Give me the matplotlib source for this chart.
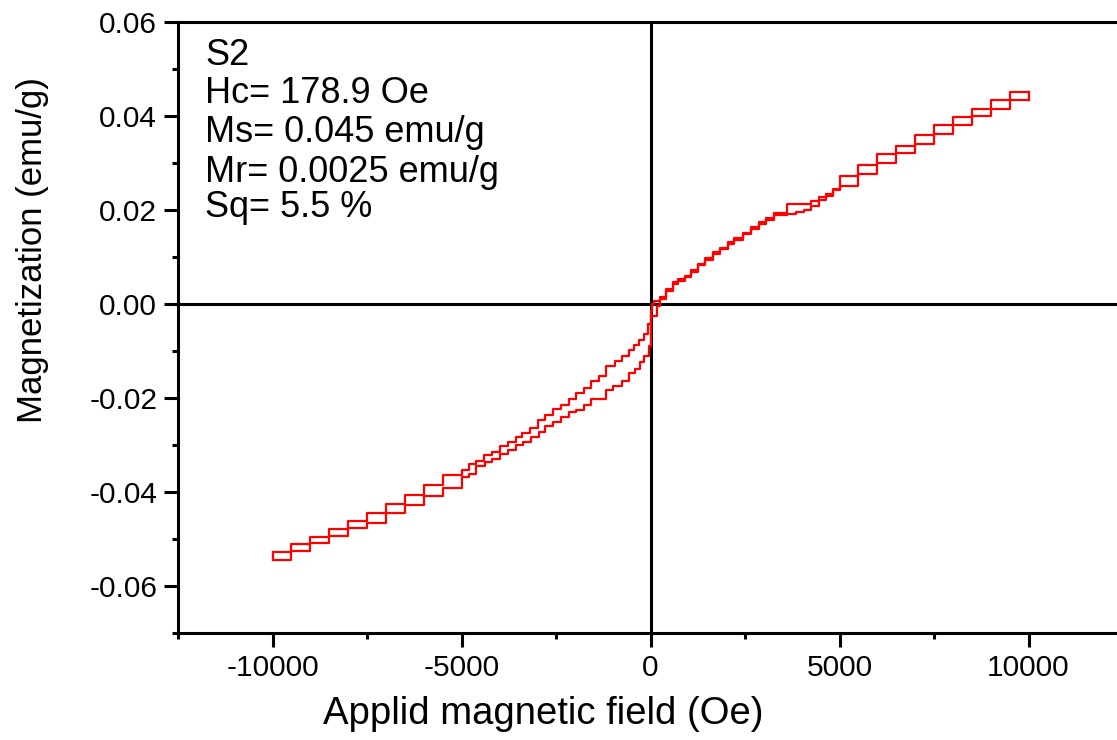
import matplotlib
matplotlib.use('Agg')
import matplotlib.pyplot as plt
import matplotlib.ticker as mticker

plt.rcParams['font.family'] = ['Liberation Sans', 'DejaVu Sans']
plt.rcParams['axes.unicode_minus'] = False

# ── Descending branch (upper curve), step corners: field (Oe), magnetization (emu/g) ──
h_desc = [-10000, -9500, -9000, -8500, -8000, -7500, -7000, -6500, -6000, -5500,
          -5000, -4800, -4610, -4410, -4190, -3970, -3780, -3570, -3390, -3200,
          -2980, -2800, -2570, -2360, -2160, -1970, -1770, -1570, -1370, -1180,
          -930, -750, -570, -430, -300, -160, -70, 0, 45, 105,
          240, 415, 590, 720, 900, 1080, 1250, 1430, 1650, 1830,
          2045, 2220, 2440, 2660, 2865, 3060, 3280, 3620, 4250, 4450,
          4650, 4820, 5000, 5500, 6000, 6500, 7000, 7500, 8000, 8500,
          9000, 9500, 10000]
m_desc = [-0.0528, -0.0511, -0.0496, -0.0479, -0.0462, -0.0444, -0.0425, -0.0406, -0.0385, -0.0363,
          -0.0353, -0.0340, -0.0333, -0.0321, -0.0314, -0.0303, -0.0293, -0.0282, -0.0275, -0.0264,
          -0.0246, -0.0236, -0.0223, -0.0215, -0.0202, -0.0189, -0.0178, -0.0164, -0.0153, -0.0132,
          -0.0121, -0.0111, -0.0098, -0.0088, -0.0076, -0.0064, -0.0043, -0.0014, 0.0000, 0.0007,
          0.0014, 0.0032, 0.0046, 0.0053, 0.0060, 0.0073, 0.0085, 0.0097, 0.0110, 0.0119,
          0.0131, 0.0140, 0.0151, 0.0163, 0.0174, 0.0182, 0.0193, 0.0213, 0.0220, 0.0227,
          0.0234, 0.0245, 0.0272, 0.0296, 0.0319, 0.0337, 0.0360, 0.0381, 0.0397, 0.0415,
          0.0434, 0.0451, 0.0451]

# ── Ascending branch (lower curve) ──
h_asc = [-10000, -9500, -9000, -8500, -8000, -7500, -7000, -6500, -6000, -5500,
         -5000, -4800, -4610, -4390, -4190, -3970, -3780, -3570, -3380, -3160,
         -2960, -2780, -2570, -2360, -2160, -1970, -1770, -1570, -1190, -1000,
         -750, -570, -420, -290, -160, -45, 0, 165, 240, 415,
         590, 720, 900, 1080, 1250, 1430, 1650, 1830, 2045, 2220,
         2440, 2660, 2865, 3060, 3280, 3620, 3850, 4050, 4250, 4450,
         4650, 4820, 5000, 5500, 6000, 6500, 7000, 7500, 8000, 8500,
         9000, 9500, 10000]
m_asc = [-0.0545, -0.0526, -0.0509, -0.0493, -0.0477, -0.0466, -0.0445, -0.0428, -0.0409, -0.0391,
         -0.0369, -0.0362, -0.0345, -0.0337, -0.0330, -0.0320, -0.0310, -0.0300, -0.0293, -0.0282,
         -0.0272, -0.0260, -0.0252, -0.0241, -0.0230, -0.0225, -0.0215, -0.0202, -0.0184, -0.0175,
         -0.0163, -0.0147, -0.0138, -0.0123, -0.0110, -0.0089, -0.0026, -0.0004, 0.0010, 0.0028,
         0.0043, 0.0050, 0.0057, 0.0069, 0.0082, 0.0094, 0.0107, 0.0116, 0.0128, 0.0137,
         0.0148, 0.0160, 0.0171, 0.0179, 0.0190, 0.0192, 0.0195, 0.0201, 0.0208, 0.0222,
         0.0230, 0.0242, 0.0252, 0.0277, 0.0300, 0.0321, 0.0341, 0.0362, 0.0381, 0.0399,
         0.0415, 0.0434, 0.0434]

info_lines = ['S2', 'Hc= 178.9 Oe', 'Ms= 0.045 emu/g', 'Mr= 0.0025 emu/g', 'Sq= 5.5 %']

x_major = [-10000, -5000, 0, 5000, 10000]
y_major = [-0.06, -0.04, -0.02, 0.00, 0.02, 0.04, 0.06]

# ── Figure ──
fig = plt.figure(figsize=(11.17, 7.40), dpi=100)
W, H = 1117, 740
ax = fig.add_axes([178 / W, 1 - 633 / H, (1123 - 178) / W, (633 - 22) / H])

red = '#ff0000'
ax.step(h_desc, m_desc, where='post', color=red, lw=1.6, zorder=3)
ax.step(h_asc, m_asc, where='post', color=red, lw=1.6, zorder=3)
# close the loop at both field extremes
ax.plot([h_asc[0], h_desc[0]], [m_asc[0], m_desc[0]], color=red, lw=1.6, zorder=3)
ax.plot([h_asc[-1], h_desc[-1]], [m_asc[-1], m_desc[-1]], color=red, lw=1.6, zorder=3)

ax.axhline(0, color='black', lw=2.2, zorder=2)
ax.axvline(0, color='black', lw=2.2, zorder=2)

ax.set_xlim(-12500, 12500)
ax.set_ylim(-0.07, 0.06)
ax.set_xticks(x_major)
ax.set_yticks(y_major)
ax.xaxis.set_minor_locator(mticker.MultipleLocator(2500))
ax.yaxis.set_minor_locator(mticker.MultipleLocator(0.01))
ax.yaxis.set_major_formatter(mticker.FormatStrFormatter('%.2f'))

for s in ax.spines.values():
    s.set_linewidth(2.2)
ax.tick_params(which='major', direction='out', length=10, width=2.2, labelsize=21.5, pad=5)
ax.tick_params(which='minor', direction='out', length=4, width=2.2)
ax.tick_params(top=False, right=False, which='both')

ax.set_xlabel('Applid magnetic field (Oe)', fontsize=27.5)
ax.xaxis.set_label_coords(0.3868, -0.103)
ax.set_ylabel('Magnetization (emu/g)', fontsize=25)
ax.yaxis.set_label_coords(-0.137, 0.627)

baselines = [0.9296, 0.8674, 0.8036, 0.7381, 0.6809]
for txt, yb in zip(info_lines, baselines):
    ax.text(0.0286, yb, txt, transform=ax.transAxes, fontsize=26, va='baseline', ha='left')

fig.savefig('out.png', dpi=100, facecolor='white')
